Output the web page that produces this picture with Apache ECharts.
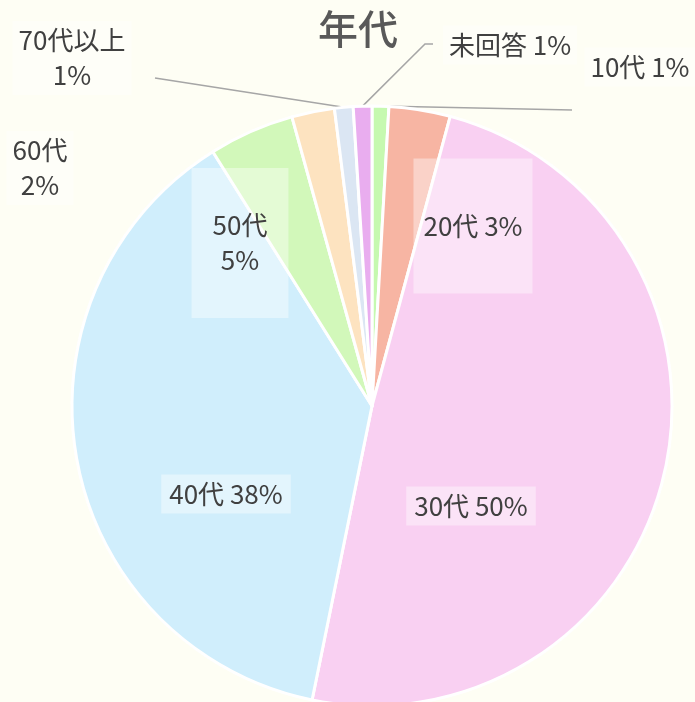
<!DOCTYPE html>
<html>
<head>
<meta charset="utf-8">
<script src="https://cdn.jsdelivr.net/npm/echarts@6/dist/echarts.min.js"></script>
<style>html,body{margin:0;padding:0;background:#fefef4;}</style>
</head>
<body>
<div id="main" style="width:695px;height:702px;"></div>
<script>
// 年代別の割合（扇の大きさ、%）
var categories = ['10代', '20代', '30代', '40代', '50代', '60代', '70代以上', '未回答'];
var values = [0.9, 3.3, 49.0, 37.9, 4.6, 2.3, 1.0, 1.0];
// グラフに表示されているラベルの%
var labelPercents = [1, 3, 50, 38, 5, 2, 1, 1];
var colors = ['#c6f9b0', '#f7b5a3', '#f9d0f2', '#d0eefc', '#d2f8ba', '#fde3c0', '#dbe6f3', '#e9adef'];

// ラベルの置き場所（テキスト中心）と引き出し線の折れ点
var labelSpots = {
  '10代':     {x: 640, y: 67, inside: false, pad: [2, 6], line: [[572, 110]]},
  '20代':     {x: 473, y: 226, inside: true, pad: [50, 10]},
  '30代':     {x: 471, y: 506, inside: true, pad: [2, 8]},
  '40代':     {x: 226, y: 494, inside: true, pad: [2, 8]},
  '50代':     {x: 240, y: 243, inside: true, pad: [40, 21], wrap: true},
  '60代':     {x: 40, y: 168, inside: false, pad: [2, 6], wrap: true, noLine: true},
  '70代以上': {x: 72, y: 58, inside: false, pad: [2, 6], wrap: true, line: [[155, 78]]},
  '未回答':   {x: 510, y: 45, inside: false, pad: [2, 6], line: [[425, 44], [433, 44]]}
};

var myChart = echarts.init(document.getElementById('main'));

var data = categories.map(function (name, i) {
  var s = labelSpots[name];
  return {
    name: name,
    value: values[i],
    itemStyle: {color: colors[i]},
    label: {position: s.inside ? 'inside' : 'outside', padding: s.pad},
    labelLine: {show: !s.inside && !s.noLine}
  };
});

var option = {
  backgroundColor: '#fefef4',
  title: {
    text: '年代',
    left: 313,
    top: 4,
    textStyle: {fontSize: 40, fontWeight: 500, color: '#595959', fontFamily: 'Noto Sans CJK JP'}
  },
  series: [{
    type: 'pie',
    center: [372, 406],
    radius: 300,
    startAngle: 90,
    clockwise: true,
    avoidLabelOverlap: false,
    itemStyle: {borderColor: '#ffffff', borderWidth: 3},
    label: {
      color: '#404040',
      fontSize: 26,
      lineHeight: 35,
      fontFamily: 'Noto Sans CJK JP',
      backgroundColor: 'rgba(255,255,255,0.4)',
      formatter: function (p) {
        var sep = labelSpots[p.name].wrap ? '\n' : ' ';
        return p.name + sep + labelPercents[p.dataIndex] + '%';
      }
    },
    labelLine: {lineStyle: {color: '#a6a6a6', width: 1.5}, length: 10, length2: 10},
    labelLayout: function (params) {
      var s = labelSpots[categories[params.dataIndex]];
      var out = {x: s.x, y: s.y, align: 'center', verticalAlign: 'middle'};
      if (s.line && params.labelLinePoints) {
        out.labelLinePoints = [params.labelLinePoints[0]].concat(s.line);
      }
      return out;
    },
    data: data
  }]
};

myChart.setOption(option);
</script>
</body>
</html>
